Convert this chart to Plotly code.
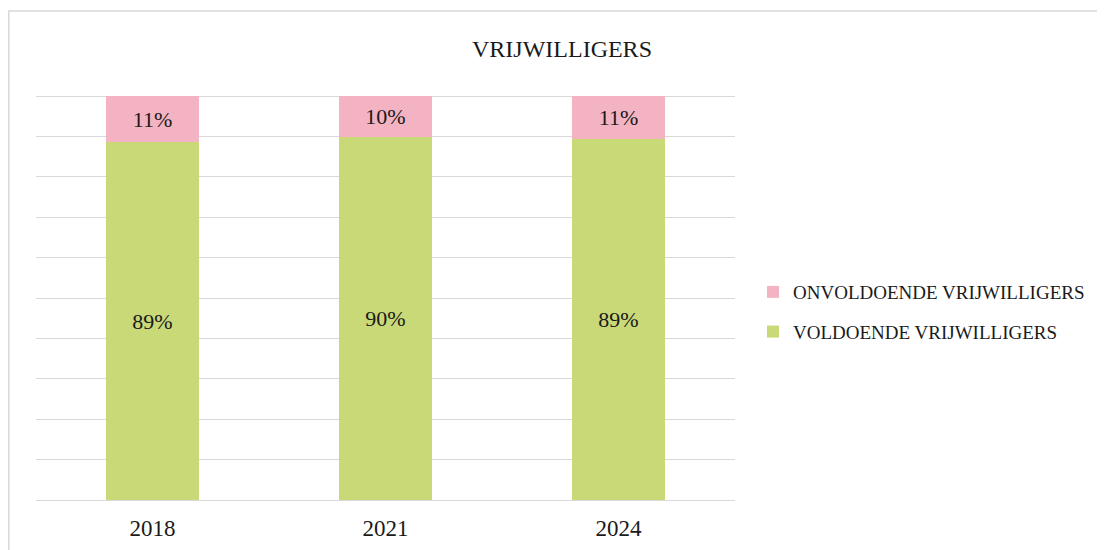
import plotly.graph_objects as go

years = ["2018", "2021", "2024"]
voldoende = [88.6, 89.9, 89.4]
onvoldoende = [11.4, 10.1, 10.6]
series_names = ["VOLDOENDE VRIJWILLIGERS", "ONVOLDOENDE VRIJWILLIGERS"]
title_text = "VRIJWILLIGERS"

FONT = "Liberation Serif"
OFF = 8  # page body margin
W, H = 1105, 550
YMAX = 101.0
# target plot area in page pixels
PX0, PX1 = 36, 735
PY_ZERO, PY_HUNDRED = 500, 96
PH = (PY_ZERO - PY_HUNDRED) * YMAX / 100.0
PY_TOP = PY_ZERO - PH
L = PX0 - OFF
R = W - (PX1 - OFF)
T = PY_TOP - OFF
B = H - (PY_ZERO - OFF)
PW = PX1 - PX0

def px_x(p):
    return (p - PX0) / PW

def px_y(p):
    return (PY_ZERO - p) / PH

fig = go.Figure()
fig.add_trace(go.Bar(
    x=years, y=voldoende, name=series_names[0],
    marker=dict(color="#c9d978", line=dict(width=0)),
    texttemplate="%{y:.0f}%", textposition="inside", insidetextanchor="middle",
    textfont=dict(family=FONT, size=22, color="#1a1a1a"),
    legendgroup="b", legendrank=2,
))
fig.add_trace(go.Bar(
    x=years, y=onvoldoende, name=series_names[1],
    marker=dict(color="#f4b3c2", line=dict(width=0)),
    texttemplate="%{y:.0f}%", textposition="inside", insidetextanchor="middle",
    textfont=dict(family=FONT, size=22, color="#1a1a1a"),
    legendgroup="a", legendrank=1,
))

fig.update_layout(
    barmode="stack",
    bargap=0.6,
    width=W, height=H,
    margin=dict(l=L, r=R, t=T, b=B, autoexpand=False),
    paper_bgcolor="white",
    plot_bgcolor="white",
    font=dict(family=FONT, color="#1a1a1a"),
    showlegend=True,
    legend=dict(
        x=px_x(753), y=px_y(273), xanchor="left", yanchor="top",
        traceorder="grouped", tracegroupgap=12,
        font=dict(family=FONT, size=19, color="#1a1a1a"),
        itemwidth=30,
    ),
    uniformtext=dict(mode=False),
    annotations=[dict(
        text=title_text, x=px_x(562), y=px_y(49), xref="paper", yref="paper",
        xanchor="center", yanchor="middle", showarrow=False,
        font=dict(family=FONT, size=24, color="#1a1a1a"),
    )],
    shapes=[dict(
        type="rect", xref="paper", yref="paper",
        x0=px_x(8.8), x1=px_x(1300), y0=px_y(700), y1=px_y(11),
        line=dict(color="#d9d9d9", width=1.5), fillcolor="rgba(0,0,0,0)",
        layer="below",
    )],
)
fig.update_xaxes(
    showgrid=False, showline=False, ticks="",
    tickfont=dict(family=FONT, size=23, color="#1a1a1a"),
    ticklabelstandoff=12,
)
fig.update_yaxes(
    range=[0, YMAX], dtick=10, showgrid=True, gridcolor="#d9d9d9", gridwidth=1.3,
    zeroline=True, zerolinecolor="#d9d9d9", zerolinewidth=1.3,
    showticklabels=False, ticks="", showline=False,
)

fig.write_html("out.html")
